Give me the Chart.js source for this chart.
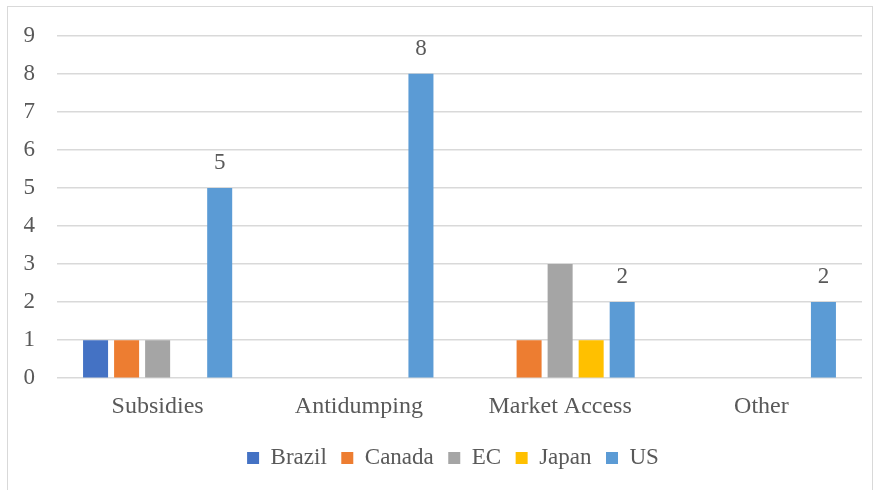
<!DOCTYPE html>
<html>
<head>
<meta charset="utf-8">
<script src="https://cdn.jsdelivr.net/npm/chart.js@4"></script>
<style>
  html, body { margin: 0; padding: 0; background: #fff; }
  #wrap { position: relative; width: 879px; height: 490px; }
  #frame { position: absolute; left: 7px; top: 6px; width: 866px; height: 490px; border: 1.5px solid #d9d9d9; box-sizing: border-box; pointer-events: none; }
  canvas { position: absolute; left: 0; top: 0; }
</style>
</head>
<body>
<div id="wrap">
  <canvas id="chart" width="879" height="490"></canvas>
  <div id="frame"></div>
</div>
<script>
// Daten
const categories = ["Subsidies", "Antidumping", "Market Access", "Other"];
const brazil = [1, null, null, null];
const canada = [1, null, 1, null];
const ec     = [1, null, 3, null];
const japan  = [null, null, 1, null];
const us     = [5, 8, 2, 2];
const yTicks = [0, 1, 2, 3, 4, 5, 6, 7, 8, 9];

const textColor = "#595959";
const serif = "'Liberation Serif', 'Times New Roman', serif";
const fontSize = 23;

// Werte über den US-Balken
const usLabels = {
    id: "usLabels",
    afterDatasetsDraw(chart) {
        const ctx = chart.ctx;
        const meta = chart.getDatasetMeta(4);
        ctx.save();
        ctx.font = fontSize + "px " + serif;
        ctx.fillStyle = textColor;
        ctx.textAlign = "center";
        ctx.textBaseline = "middle";
        meta.data.forEach((bar, i) => {
            if (us[i] == null) return;
            ctx.fillText(String(us[i]), bar.x, bar.y - 25);
        });
        ctx.restore();
    }
};

// Legende etwas nach rechts schieben (unter die Plotfläche)
const legendShift = {
    id: "legendShift",
    afterLayout(chart) {
        chart.legend.left += 22;
        chart.legend.right += 22;
    }
};

new Chart(document.getElementById("chart"), {
    type: "bar",
    data: {
        labels: categories,
        datasets: [
            { label: "Brazil", data: brazil, backgroundColor: "#4472c4" },
            { label: "Canada", data: canada, backgroundColor: "#ed7d31" },
            { label: "EC",     data: ec,     backgroundColor: "#a5a5a5" },
            { label: "Japan",  data: japan,  backgroundColor: "#ffc000" },
            { label: "US",     data: us,     backgroundColor: "#5b9bd5" }
        ]
    },
    options: {
        responsive: false,
        animation: false,
        categoryPercentage: 0.771,
        barPercentage: 0.806,
        layout: { padding: { top: 29, right: 17, bottom: 10.5, left: 0 } },
        scales: {
            x: {
                afterFit(scale) { scale.height += 5; },
                grid: { display: false },
                border: { display: false },
                ticks: { color: textColor, font: { family: serif, size: 24 }, padding: 6 }
            },
            y: {
                min: 0,
                max: 9,
                afterFit(scale) { scale.width = 57; },
                afterBuildTicks(scale) { scale.ticks = yTicks.map(v => ({ value: v })); },
                grid: { color: "#d9d9d9", lineWidth: 1.5, drawTicks: false },
                border: { display: false },
                ticks: { color: textColor, font: { family: serif, size: fontSize }, padding: 22 }
            }
        },
        plugins: {
            legend: {
                position: "bottom",
                labels: {
                    color: textColor,
                    font: { family: serif, size: fontSize },
                    boxWidth: 12,
                    boxHeight: 12,
                    padding: 14.5
                }
            },
            tooltip: { enabled: false }
        }
    },
    plugins: [usLabels, legendShift]
});
</script>
</body>
</html>
